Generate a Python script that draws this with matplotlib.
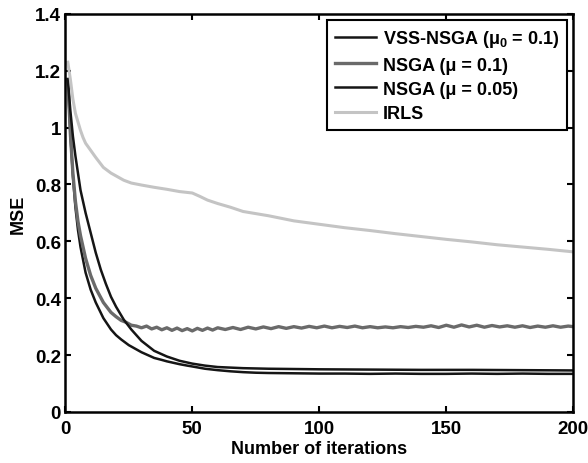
import matplotlib
matplotlib.use('Agg')
import matplotlib.pyplot as plt

# MSE curves (iteration, value)
iters_irls = [1, 2, 3, 4, 5, 6, 7, 8, 10, 12, 15, 18, 20, 23, 26, 30, 35, 40, 45, 48, 50,
              53, 56, 60, 65, 70, 80, 90, 100, 110, 120, 130, 140, 150, 160, 170, 180, 190, 200]
mse_irls = [1.23, 1.17, 1.10, 1.05, 1.02, 0.99, 0.965, 0.945, 0.92, 0.895, 0.86, 0.84, 0.83,
            0.815, 0.805, 0.798, 0.79, 0.783, 0.775, 0.772, 0.77, 0.758, 0.745, 0.733, 0.72,
            0.705, 0.69, 0.672, 0.66, 0.648, 0.638, 0.627, 0.617, 0.607, 0.598, 0.588, 0.58,
            0.572, 0.563]

iters_nsga05 = [1, 2, 3, 4, 5, 6, 8, 10, 12, 14, 16, 18, 20, 23, 26, 30, 35, 40, 45, 50,
                55, 60, 70, 80, 90, 100, 120, 140, 160, 180, 200]
mse_nsga05 = [1.17, 1.06, 0.97, 0.90, 0.84, 0.78, 0.70, 0.63, 0.56, 0.50, 0.45, 0.405, 0.37,
              0.325, 0.29, 0.25, 0.215, 0.195, 0.18, 0.17, 0.163, 0.158, 0.154, 0.152, 0.151,
              0.15, 0.149, 0.148, 0.148, 0.147, 0.146]

iters_vss = [1, 2, 3, 4, 5, 6, 8, 10, 12, 15, 18, 20, 22, 25, 28, 30, 33, 35, 38, 40, 43, 45,
             48, 50, 55, 60, 65, 70, 75, 80, 90, 100, 110, 120, 130, 140, 150, 160, 170, 180,
             190, 200]
mse_vss = [1.17, 0.98, 0.83, 0.72, 0.64, 0.58, 0.49, 0.43, 0.385, 0.33, 0.29, 0.27, 0.255,
           0.235, 0.22, 0.21, 0.198, 0.19, 0.183, 0.178, 0.172, 0.168, 0.163, 0.16, 0.152,
           0.147, 0.143, 0.14, 0.138, 0.137, 0.136, 0.135, 0.135, 0.134, 0.135, 0.134, 0.134,
           0.135, 0.134, 0.135, 0.134, 0.134]

iters_nsga1 = [1, 2, 3, 4, 5, 6, 8, 10, 12, 15, 18, 20, 22, 24, 26, 28, 30, 32, 34, 36, 38,
               40, 42, 44, 46, 48, 50, 52, 54, 56, 58, 60, 63, 66, 69, 72, 75, 78, 81, 84, 87,
               90, 93, 96, 99, 102, 105, 108, 111, 114, 117, 120, 123, 126, 129, 132, 135,
               138, 141, 144, 147, 150, 153, 156, 159, 162, 165, 168, 171, 174, 177, 180, 183,
               186, 189, 192, 195, 198, 200]
mse_nsga1 = [1.17, 0.98, 0.84, 0.74, 0.67, 0.62, 0.54, 0.48, 0.435, 0.385, 0.35, 0.335, 0.322,
             0.315, 0.305, 0.302, 0.296, 0.302, 0.292, 0.298, 0.289, 0.296, 0.287, 0.295, 0.286,
             0.293, 0.285, 0.294, 0.287, 0.295, 0.288, 0.296, 0.29, 0.297, 0.29, 0.298, 0.292,
             0.299, 0.293, 0.3, 0.294, 0.3, 0.295, 0.301, 0.296, 0.302, 0.296, 0.301, 0.297,
             0.302, 0.296, 0.3, 0.296, 0.299, 0.296, 0.3, 0.297, 0.301, 0.298, 0.303, 0.297,
             0.305, 0.298, 0.306, 0.299, 0.305, 0.298, 0.304, 0.299, 0.303, 0.298, 0.303,
             0.297, 0.302, 0.298, 0.303, 0.298, 0.302, 0.3]

labels = ['VSS-NSGA (μ$_\\mathbf{0}$ = 0.1)', 'NSGA (μ = 0.1)', 'NSGA (μ = 0.05)', 'IRLS']
colors = ['#151515', '#6a6a6a', '#151515', '#c4c4c4']


def main():
    plt.rcParams['font.family'] = ['Liberation Sans', 'DejaVu Sans']
    plt.rcParams['font.weight'] = 'bold'
    plt.rcParams['mathtext.fontset'] = 'custom'
    plt.rcParams['mathtext.bf'] = 'Liberation Sans:bold'
    plt.rcParams['mathtext.rm'] = 'Liberation Sans:bold'

    fig = plt.figure(figsize=(5.88, 4.64), dpi=100)
    ax = fig.add_axes([0.111, 0.11, 0.864, 0.858])

    ax.plot(iters_vss, mse_vss, color=colors[0], lw=1.8, label=labels[0])
    ax.plot(iters_nsga1, mse_nsga1, color=colors[1], lw=2.4, label=labels[1])
    ax.plot(iters_nsga05, mse_nsga05, color=colors[2], lw=1.8, label=labels[2])
    ax.plot(iters_irls, mse_irls, color=colors[3], lw=2.2, label=labels[3])

    ax.set_xlim(0, 200)
    ax.set_ylim(0, 1.4)
    ax.set_xticks([0, 50, 100, 150, 200])
    ax.set_yticks([0, 0.2, 0.4, 0.6, 0.8, 1.0, 1.2, 1.4])
    ax.set_yticklabels(['0', '0.2', '0.4', '0.6', '0.8', '1', '1.2', '1.4'])
    ax.tick_params(direction='in', top=True, right=True, length=4, width=1.5,
                   labelsize=13.5)
    ax.tick_params(axis='x', pad=6)
    ax.tick_params(axis='y', pad=3)
    for s in ax.spines.values():
        s.set_linewidth(1.8)

    ax.set_xlabel('Number of iterations', fontsize=13, fontweight='bold', labelpad=2)
    ax.set_ylabel('MSE', fontsize=13, fontweight='bold', labelpad=6)

    leg = ax.legend(loc='upper right', fontsize=13, handlelength=2.3, handletextpad=0.35,
                    borderpad=0.45, labelspacing=0.4, fancybox=False, framealpha=1,
                    borderaxespad=0.35)
    leg.get_frame().set_edgecolor('black')
    leg.get_frame().set_linewidth(1.5)

    fig.savefig('out.png', dpi=100)


if __name__ == '__main__':
    main()
